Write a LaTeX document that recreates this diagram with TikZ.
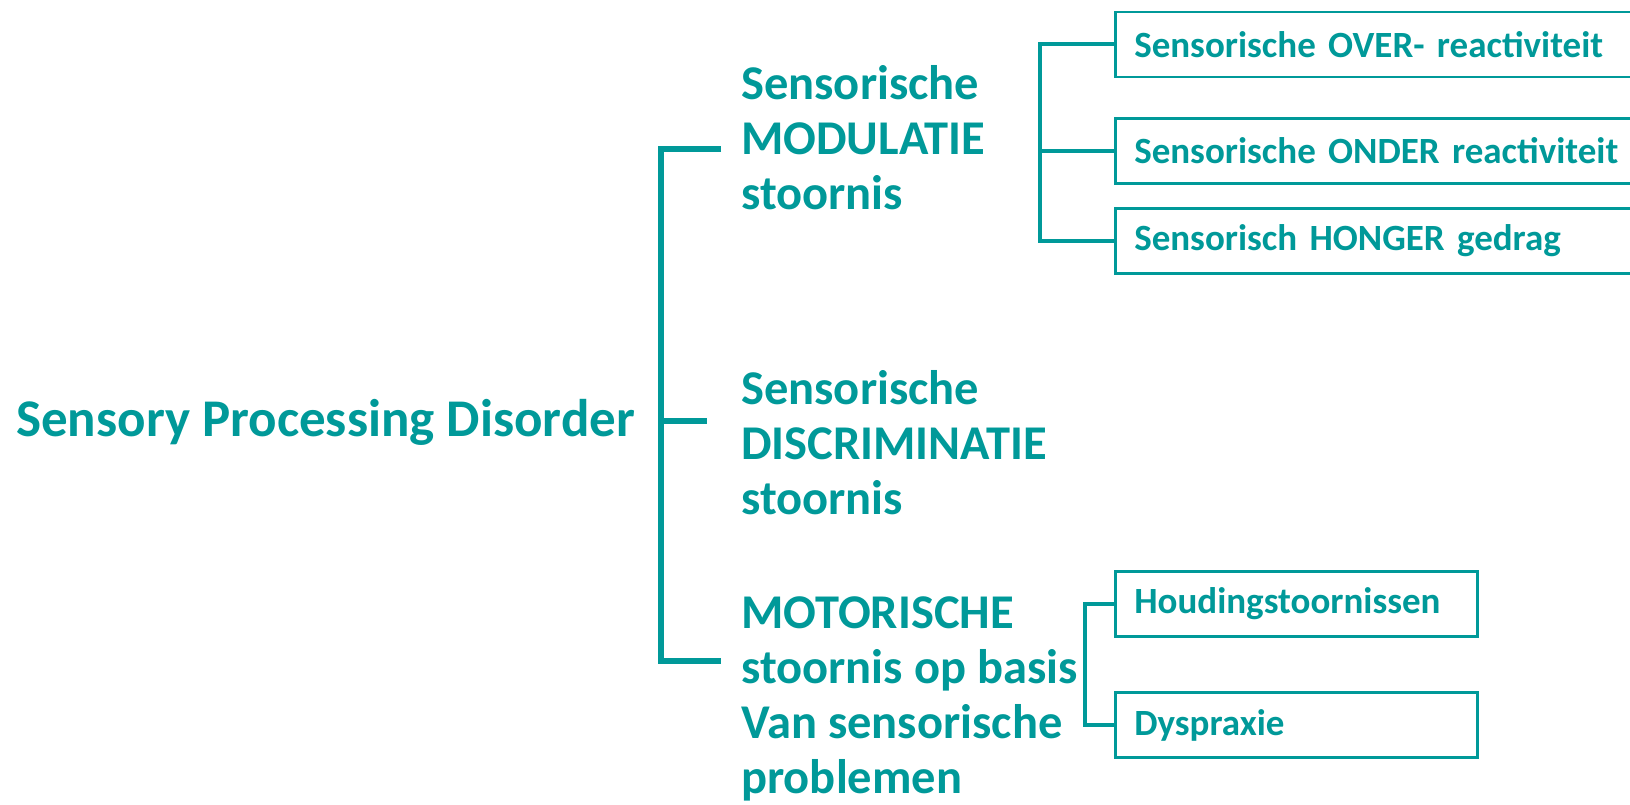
\documentclass[tikz,border=0pt]{standalone}
\usepackage{fontspec}
\setmainfont{Carlito}
\definecolor{teal1}{RGB}{0,153,153}
\begin{document}
\begin{tikzpicture}[x=1pt,y=-1pt,
  lbl/.style={text=teal1,font=\bfseries,inner sep=0pt,align=left},
  bigf/.style={font=\fontsize{53}{60}\selectfont\bfseries},
  midf/.style={font=\fontsize{48.5}{55}\selectfont\bfseries},
  subbox/.style={draw=teal1,line width=2.5pt,text=teal1,anchor=west,
    minimum height=65pt,inner xsep=19pt,inner ysep=0pt,align=left,
    font=\fontsize{37}{44}\selectfont\bfseries},
  conn/.style={draw=teal1,line width=4pt},
  mainconn/.style={draw=teal1,line width=6pt}]
\useasboundingbox (0,0) rectangle (1630,805);
\clip (0,0) rectangle (1630,805);
% main label
\node[lbl,bigf,anchor=base west] (spd) at (16,436) {Sensory Processing Disorder};
% mid labels (base anchor = last line baseline)
\node[lbl,midf,anchor=base west] (m1) at (741,210) {Sensorische\\MODULATIE\\stoornis};
\node[lbl,midf,anchor=base west] (m2) at (741,514) {Sensorische\\DISCRIMINATIE\\stoornis};
\node[lbl,midf,anchor=base west] (m3) at (741,793) {MOTORISCHE\\stoornis op basis\\Van sensorische\\problemen};
% boxes
\node[subbox,minimum width=540pt,text width=502pt] (b1) at (1114,44.5) {Sensorische OVER- reactiviteit};
\node[subbox,minimum width=540pt,text width=502pt] (b2) at (1114,151) {Sensorische ONDER reactiviteit};
\node[subbox,minimum width=540pt,text width=502pt] (b3) at (1114,241) {Sensorisch HONGER gedrag};
\node[subbox,minimum width=362pt,text width=324pt] (b4) at (1114,604) {Houdingstoornissen};
\node[subbox,minimum width=362pt,text width=324pt] (b5) at (1114,725) {Dyspraxie};
% main bracket
\coordinate (br) at (661,421);
\coordinate (a1) at (721,149);
\coordinate (a2) at (707,421);
\coordinate (a3) at (721,661);
\draw[mainconn] (a1) -- (a1 -| br) -- (a3 -| br) -- (a3);
\draw[mainconn] (br) -- (a2);
% top bracket
\coordinate (tb) at (1040,0);
\draw[conn] (b1.west) -- (b1.west -| tb) -- (b3.west -| tb) -- (b3.west);
\draw[conn] (b2.west) -- (b2.west -| tb);
% bottom bracket
\coordinate (bb) at (1085,0);
\draw[conn] (b4.west) -- (b4.west -| bb) -- (b5.west -| bb) -- (b5.west);
\end{tikzpicture}
\end{document}
